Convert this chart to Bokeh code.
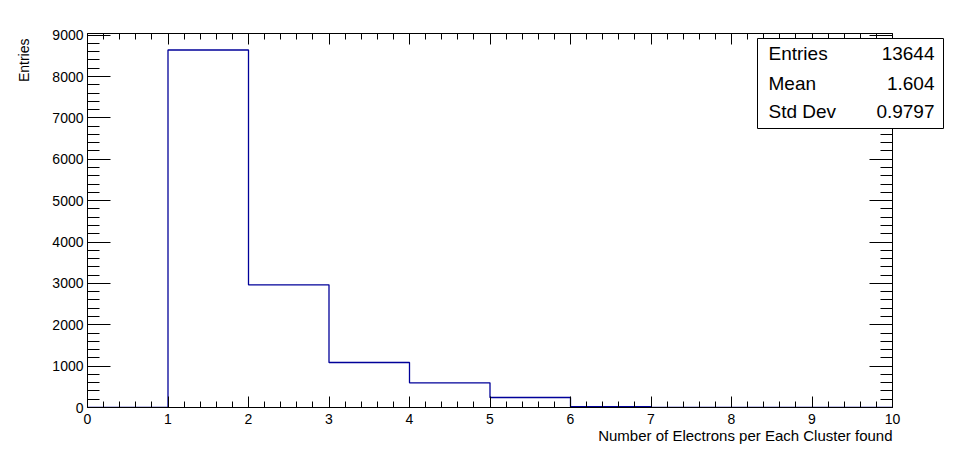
import numpy as np
from bokeh.plotting import figure
from bokeh.models import (FixedTicker, LinearAxis, Range1d, Label, BoxAnnotation,
                          CustomJSTickFormatter, Title)
from bokeh.embed import file_html
from bokeh.resources import INLINE

# ---- data ----
bin_edges = [0, 1, 2, 3, 4, 5, 6, 7, 8, 9, 10]
bin_counts = [0, 8641, 2966, 1088, 597, 242, 18, 0, 0, 0]
x_title = "Number of Electrons per Each Cluster found"
y_title = "Entries"
stat_names = ["Entries", "Mean", "Std Dev"]
stat_values = ["13644", "1.604", "0.9797"]
x_major = list(range(0, 11))
y_major = list(range(0, 10000, 1000))

FONT = "Liberation Sans"
LINE = "#000099"

W, H = 962, 474
LEFT, TOP, BOTTOM, RIGHT = 87, 33, 67, 12
frame_w = W - LEFT - RIGHT
hist_right_px = 892            # where x = 10 sits on the canvas
px_per_unit = (hist_right_px - LEFT) / 10.0
x_end = frame_w / px_per_unit

p = figure(width=W, height=H, output_backend="svg", toolbar_location=None,
           x_range=Range1d(0, x_end), y_range=Range1d(0, 9040),
           min_border_left=LEFT, min_border_right=RIGHT, min_border_top=TOP,
           min_border_bottom=BOTTOM)
p.background_fill_color = "white"
p.border_fill_color = "white"
p.outline_line_color = None
p.xgrid.visible = False
p.ygrid.visible = False

ys = list(bin_counts) + [bin_counts[-1]]
p.step(x=bin_edges, y=ys, mode="after", line_color=LINE, line_width=1.3)

x_minor = [i * 0.2 for i in range(0, 51)]
y_minor = list(range(0, 9001, 200))

def style(ax, major, minor, maj_len, min_len, labels=True):
    ax.ticker = FixedTicker(ticks=major, minor_ticks=minor)
    ax.major_tick_in = maj_len
    ax.major_tick_out = 0
    ax.minor_tick_in = min_len
    ax.minor_tick_out = 0
    ax.axis_line_color = "black"
    ax.major_tick_line_color = "black"
    ax.minor_tick_line_color = "black"
    ax.major_label_text_font = FONT
    ax.major_label_text_font_size = "14px"
    ax.major_label_text_color = "black"
    if not labels:
        ax.formatter = CustomJSTickFormatter(code="return ''")
        ax.major_label_standoff = 0

xb = p.xaxis[0]
style(xb, x_major, x_minor, 11, 6)
xb.bounds = (0, 10)
xb.major_label_standoff = 6
yl = p.yaxis[0]
style(yl, y_major, y_minor, 23, 12)
yl.major_label_standoff = 4

xt = LinearAxis()
style(xt, x_major, x_minor, 11, 6, labels=False)
xt.bounds = (0, 10)
p.add_layout(xt, "above")
yr = LinearAxis(fixed_location=10)
style(yr, y_major, y_minor, 23, 12, labels=False)
p.add_layout(yr, "right")

# axis titles
p.add_layout(Title(text=x_title, align="right", offset=W - RIGHT - hist_right_px,
                   standoff=-4, text_font=FONT, text_font_size="15px",
                   text_font_style="normal", text_color="black"), "below")
p.add_layout(Title(text=y_title, align="right", offset=5, vertical_align="top",
                   standoff=31, text_font=FONT, text_font_size="14px",
                   text_font_style="normal", text_color="black"), "left")

# stats box
p.add_layout(BoxAnnotation(left=757, right=943, top=38, bottom=128,
                           left_units="canvas", right_units="canvas",
                           top_units="canvas", bottom_units="canvas",
                           fill_color="white", fill_alpha=1.0,
                           line_color="black", line_width=1, line_alpha=1.0))
row_y = [53, 83, 111]
for name, val, yy in zip(stat_names, stat_values, row_y):
    p.add_layout(Label(x=768, y=yy, x_units="canvas", y_units="canvas", text=name,
                       text_align="left", text_baseline="middle", text_font=FONT,
                       text_font_size="19px", text_color="black"))
    p.add_layout(Label(x=934, y=yy, x_units="canvas", y_units="canvas", text=val,
                       text_align="right", text_baseline="middle", text_font=FONT,
                       text_font_size="19px", text_color="black"))

open("out.html", "w").write(file_html(p, INLINE))
